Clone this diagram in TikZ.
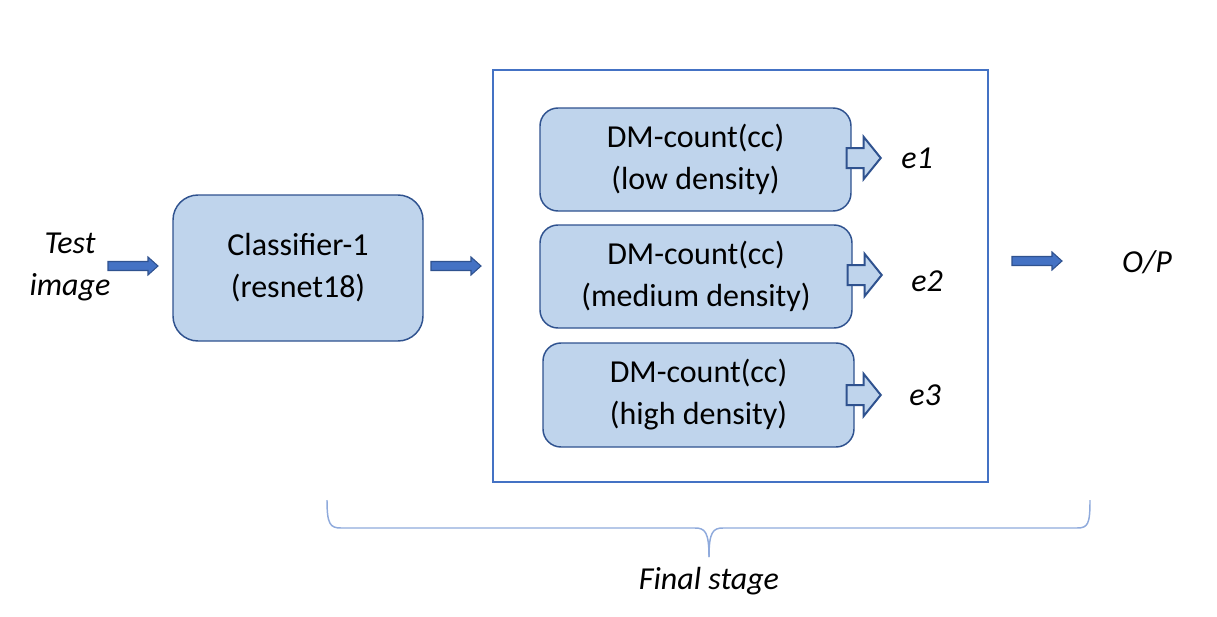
\documentclass[tikz,border=0pt]{standalone}
\usepackage{fontspec}
\setmainfont{Carlito}
\usetikzlibrary{calc}
\begin{document}
\begin{tikzpicture}[x=0.75pt,y=-0.75pt,
  txt/.style={font=\fontsize{24pt}{31.5pt}\selectfont, align=center, inner sep=0pt},
  itxt/.style={txt, font=\fontsize{24pt}{31.5pt}\selectfont\itshape},
  blkbox/.style={draw=boxline, fill=boxfill, line width=1.1pt, rounded corners=18*0.75pt, txt},
  fillarrow/.style={draw=boxline, fill=arrfill, line width=0.8pt},
  hollowarrow/.style={draw=boxline, fill=boxfill, line width=1.5pt},
  framebox/.style={draw=framecol, line width=2.2pt, inner sep=0pt},
  bracecol/.style={draw=bracec, line width=1.1pt}]
\definecolor{boxfill}{HTML}{BFD4EC}
\definecolor{boxline}{HTML}{2F528F}
\definecolor{arrfill}{HTML}{4472C4}
\definecolor{framecol}{HTML}{4472C4}
\definecolor{bracec}{HTML}{8FAADC}
\useasboundingbox (0,0) rectangle (1217,617);

\node[itxt] (test) at (70,267) {Test\\image};
\node[blkbox, rounded corners=25*0.75pt, minimum width=250*0.75pt, minimum height=146*0.75pt] (cls) at (298,268) {Classifier-1\\(resnet18)};
\node[framebox, minimum width=495*0.75pt, minimum height=412*0.75pt] (frame) at (740.5,276) {};
\node[blkbox, minimum width=311*0.75pt, minimum height=103*0.75pt] (dm1) at (695.5,159.5) {DM-count(cc)\\(low density)};
\node[blkbox, minimum width=312*0.75pt, minimum height=103*0.75pt] (dm2) at (696,276.5) {DM-count(cc)\\(medium density)};
\node[blkbox, minimum width=311*0.75pt, minimum height=104*0.75pt] (dm3) at (698.5,395) {DM-count(cc)\\(high density)};
\node[itxt] (e1) at (917,158) {e1};
\node[itxt] (e2) at (927,281) {e2};
\node[itxt] (e3) at (925,395) {e3};
\node[itxt] (op) at (1147,262) {O/P};
\node[itxt] (fs) at (709,581) {Final stage};

% filled arrows
\coordinate (a1) at (108,266);
\coordinate (a2) at (431,266);
\coordinate (a3) at (1012,261);
\foreach \c in {a1,a2,a3}{
  \draw[fillarrow, shift={(\c)}] (0,-4.5) -- (40,-4.5) -- (40,-9) -- (50,0) -- (40,9) -- (40,4.5) -- (0,4.5) -- cycle;
}
% hollow arrows
\coordinate (h1) at ($(dm1.east)+(-5,-1.5)$);
\coordinate (h2) at ($(dm2.east)+(-5,-1.5)$);
\coordinate (h3) at ($(dm3.east)+(-8,0)$);
\foreach \c in {h1,h2,h3}{
  \draw[hollowarrow, shift={(\c)}] (0,-10) -- (17,-10) -- (17,-21) -- (34,0) -- (17,21) -- (17,10) -- (0,10) -- cycle;
}
% brace
\coordinate (bl) at (327,500);
\coordinate (bm) at (709,557);
\coordinate (br) at (1090,500);
\draw[bracecol] (bl) .. controls (327,524) and (330,528) .. (341,528) -- (695,528) .. controls (705,528) and (709,532) .. (bm);
\draw[bracecol] (bm) .. controls (709,532) and (713,528) .. (723,528) -- (1077,528) .. controls (1088,528) and (1090,524) .. (br);
\end{tikzpicture}
\end{document}
